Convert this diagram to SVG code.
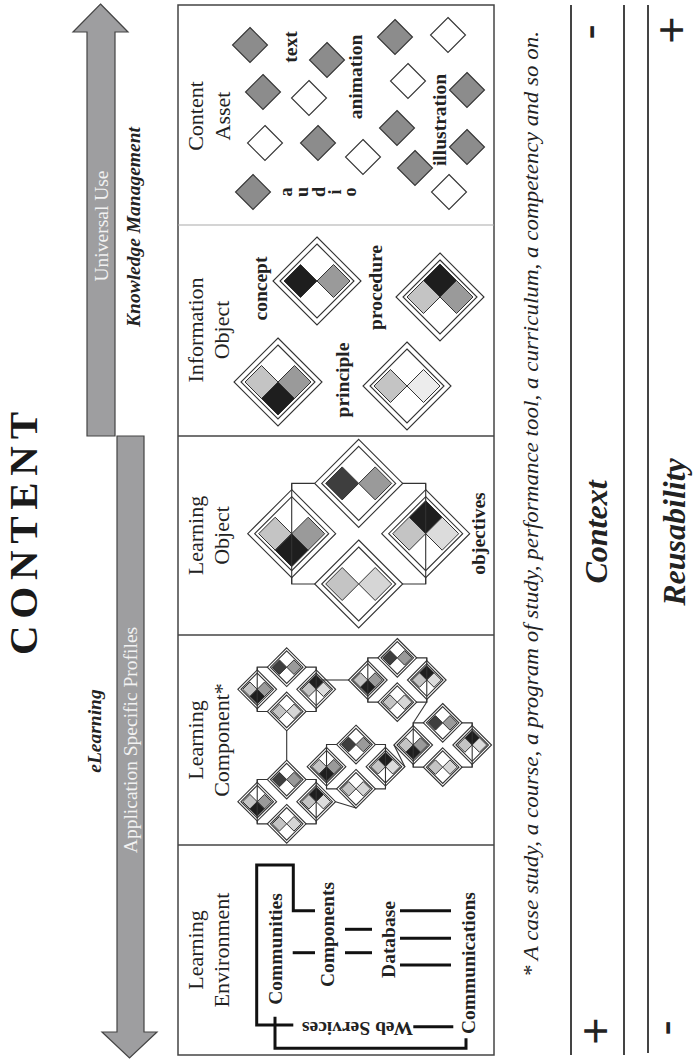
<svg xmlns="http://www.w3.org/2000/svg" xmlns:xlink="http://www.w3.org/1999/xlink" width="697" height="1059" viewBox="0 0 697 1059">
<style>
  .lbl{font-family:"Liberation Serif",serif;font-size:22px;fill:#222;text-anchor:middle}
  .b{font-family:"Liberation Serif",serif;font-weight:bold;font-size:19.5px;fill:#222;text-anchor:middle}
  .bi{font-family:"Liberation Serif",serif;font-weight:bold;font-style:italic;font-size:19.5px;fill:#222;text-anchor:middle}
  .at{font-family:"Liberation Serif",serif;font-size:19.5px;fill:#f2f2f2;text-anchor:middle}
  .pm{font-family:"Liberation Sans",sans-serif;font-size:47px;fill:#222;text-anchor:middle}
  .o{fill:#fff;stroke:#333;stroke-width:1.1}
  .i{fill:none;stroke:#333;stroke-width:1.1}
  .s{stroke:#333;stroke-width:1}
  .ln{fill:none;stroke:#333;stroke-width:1.1}
  .thick{fill:none;stroke:#111;stroke-width:3}
</style>
<defs>
  <path id="od" d="M0,-44L44,0L0,44L-44,0Z" vector-effect="non-scaling-stroke"/>
  <path id="id" d="M0,-37L37,0L0,37L-37,0Z" vector-effect="non-scaling-stroke"/>
  <path id="sd" d="M0,-16.5L16.5,0L0,16.5L-16.5,0Z" vector-effect="non-scaling-stroke"/>
  <path id="ca" d="M0,-17.5L17.5,0L0,17.5L-17.5,0Z"/>
  <g id="lo">
    <rect x="-67" y="-50.3" width="134" height="100.6" class="ln" vector-effect="non-scaling-stroke"/>
    <g transform="translate(0,-50.3)">
      <use href="#od" class="o"/><use href="#id" class="i"/>
      <use href="#sd" x="-16.5" class="s" fill="#3e3e3e"/>
      <use href="#sd" x="16.5" class="s" fill="#9a9a9a"/>
    </g>
    <g transform="translate(-67,0)">
      <use href="#od" class="o"/><use href="#id" class="i"/>
      <use href="#sd" x="-16.5" class="s" fill="#c4c4c4"/>
      <use href="#sd" x="16.5" class="s" fill="#9a9a9a"/>
      <use href="#sd" y="16.5" class="s" fill="#1e1e1e"/>
    </g>
    <g transform="translate(67,0)">
      <use href="#od" class="o"/><use href="#id" class="i"/>
      <use href="#sd" y="-16.5" class="s" fill="#1e1e1e"/>
      <use href="#sd" x="-16.5" class="s" fill="#c4c4c4"/>
      <use href="#sd" x="16.5" class="s" fill="#dcdcdc"/>
    </g>
    <g transform="translate(0,50.3)">
      <use href="#od" class="o"/><use href="#id" class="i"/>
      <use href="#sd" x="-16.5" class="s" fill="#c4c4c4"/>
      <use href="#sd" x="16.5" class="s" fill="#d6d6d6"/>
    </g>
    <path d="M-67,-50.3V50.3M67,-50.3V50.3" class="ln" vector-effect="non-scaling-stroke"/>
  </g>
</defs>

<rect width="697" height="1059" fill="#fff"/>

<g id="title">
  <text transform="translate(37,533.5) rotate(-90)" style="font-family:'Liberation Serif',serif;font-weight:bold;font-size:41px;fill:#1a1a1a;text-anchor:middle" textLength="243" lengthAdjust="spacing">CONTENT</text>
</g>

<g id="arrow-universal-use">
  <path d="M100.5,4L128,32H115V436H87V32H73Z" fill="#9e9ea0" stroke="#444" stroke-width="1.2"/>
  <text class="at" transform="translate(108,226) rotate(-90)">Universal Use</text>
  <text class="bi" transform="translate(140,227) rotate(-90)">Knowledge Management</text>
</g>

<g id="arrow-application-profiles">
  <path d="M117,436H144V1032H157L129.5,1058L102,1032H117Z" fill="#9e9ea0" stroke="#444" stroke-width="1.2"/>
  <text class="at" transform="translate(137,740) rotate(-90)">Application Specific Profiles</text>
  <text class="bi" transform="translate(101,731) rotate(-90)">eLearning</text>
</g>

<g id="frame">
  <rect x="178" y="5" width="316" height="1050" fill="none" stroke="#444" stroke-width="1.5"/>
  <line x1="178" y1="225" x2="494" y2="225" stroke="#aaa" stroke-width="1.2"/>
  <line x1="178" y1="436" x2="494" y2="436" stroke="#444" stroke-width="1.3"/>
  <line x1="178" y1="635" x2="494" y2="635" stroke="#444" stroke-width="1.3"/>
  <line x1="178" y1="845" x2="494" y2="845" stroke="#444" stroke-width="1.3"/>
</g>

<g id="content-asset">
  <text class="lbl" transform="translate(203,116) rotate(-90)">Content</text>
  <text class="lbl" transform="translate(230,116) rotate(-90)">Asset</text>
  <g stroke="#333" stroke-width="1.1">
    <use href="#ca" x="250" y="45" fill="#8c8c8c"/>
    <use href="#ca" x="263" y="92" fill="#8c8c8c"/>
    <use href="#ca" x="265" y="143" fill="#fff"/>
    <use href="#ca" x="253" y="192" fill="#8c8c8c"/>
    <use href="#ca" x="327" y="60" fill="#8c8c8c"/>
    <use href="#ca" x="309" y="98" fill="#fff"/>
    <use href="#ca" x="318" y="143" fill="#8c8c8c"/>
    <use href="#ca" x="363" y="157" fill="#fff"/>
    <use href="#ca" x="395" y="37" fill="#8c8c8c"/>
    <use href="#ca" x="408" y="81" fill="#fff"/>
    <use href="#ca" x="397" y="128" fill="#8c8c8c"/>
    <use href="#ca" x="415" y="168" fill="#8c8c8c"/>
    <use href="#ca" x="448" y="35" fill="#fff"/>
    <use href="#ca" x="467" y="90" fill="#8c8c8c"/>
    <use href="#ca" x="467" y="147" fill="#8c8c8c"/>
    <use href="#ca" x="449" y="192" fill="#fff"/>
  </g>
  <text class="b" transform="translate(297,47) rotate(-90)">text</text>
  <text class="b" transform="translate(362,77) rotate(-90)">animation</text>
  <text class="b" transform="translate(446,120) rotate(-90)">illustration</text>
  <text class="b" style="font-size:18px" transform="translate(292,192) rotate(-90)">a</text>
  <text class="b" style="font-size:18px" transform="translate(308,192) rotate(-90)">u</text>
  <text class="b" style="font-size:18px" transform="translate(325,192) rotate(-90)">d</text>
  <text class="b" style="font-size:18px" transform="translate(341,192) rotate(-90)">i</text>
  <text class="b" style="font-size:18px" transform="translate(356,192) rotate(-90)">o</text>
</g>

<g id="information-object">
  <text class="lbl" transform="translate(203,330) rotate(-90)">Information</text>
  <text class="lbl" transform="translate(229,330) rotate(-90)">Object</text>
  <g transform="translate(278,382)">
    <use href="#od" class="o"/><use href="#id" class="i"/>
    <use href="#sd" x="-16.5" class="s" fill="#c4c4c4"/>
    <use href="#sd" x="16.5" class="s" fill="#9a9a9a"/>
    <use href="#sd" y="16.5" class="s" fill="#1e1e1e"/>
  </g>
  <g transform="translate(317,281)">
    <use href="#od" class="o"/><use href="#id" class="i"/>
    <use href="#sd" x="-16.5" class="s" fill="#1e1e1e"/>
    <use href="#sd" x="16.5" class="s" fill="#9a9a9a"/>
  </g>
  <g transform="translate(407,386)">
    <use href="#od" class="o"/><use href="#id" class="i"/>
    <use href="#sd" x="-16.5" class="s" fill="#c4c4c4"/>
    <use href="#sd" x="16.5" class="s" fill="#ececec"/>
  </g>
  <g transform="translate(440,297)">
    <use href="#od" class="o"/><use href="#id" class="i"/>
    <use href="#sd" y="-16.5" class="s" fill="#1e1e1e"/>
    <use href="#sd" x="-16.5" class="s" fill="#c4c4c4"/>
    <use href="#sd" x="16.5" class="s" fill="#9a9a9a"/>
  </g>
  <text class="b" transform="translate(267,288.5) rotate(-90)">concept</text>
  <text class="b" transform="translate(349,380) rotate(-90)">principle</text>
  <text class="b" transform="translate(382,287.5) rotate(-90)">procedure</text>
</g>

<g id="learning-object">
  <text class="lbl" transform="translate(203,535.5) rotate(-90)">Learning</text>
  <text class="lbl" transform="translate(229,535.5) rotate(-90)">Object</text>
  <use href="#lo" transform="translate(358.7,533.7)"/>
  <text class="b" transform="translate(485,533.5) rotate(-90)">objectives</text>
</g>

<g id="learning-component">
  <text class="lbl" transform="translate(203,740) rotate(-90)">Learning</text>
  <text class="lbl" transform="translate(229,740) rotate(-90)">Component*</text>
  <use href="#lo" transform="translate(286.7,689.3) scale(0.44)"/>
  <use href="#lo" transform="translate(397.3,680) scale(0.44)"/>
  <use href="#lo" transform="translate(442.7,745) scale(0.44)"/>
  <use href="#lo" transform="translate(356,766.7) scale(0.44)"/>
  <use href="#lo" transform="translate(286.7,801.7) scale(0.44)"/>
</g>

<g id="learning-environment">
  <text class="lbl" transform="translate(203,950) rotate(-90)">Learning</text>
  <text class="lbl" transform="translate(229,950) rotate(-90)">Environment</text>
  <text class="b" transform="translate(282,949) rotate(-90)">Communities</text>
  <text class="b" transform="translate(334,934.5) rotate(-90)">Components</text>
  <text class="b" transform="translate(395,939.5) rotate(-90)">Database</text>
  <text class="b" transform="translate(475,963) rotate(-90)">Communications</text>
  <text class="b" transform="translate(357.5,1021.5) rotate(180)">Web Services</text>
</g>

<g id="connectors">
  <g class="ln" stroke-width="1.3">
    <line x1="320" y1="680" x2="349" y2="680"/>
    <line x1="286.7" y1="730.8" x2="286.7" y2="760.2"/>
    <line x1="426.8" y1="702" x2="413.2" y2="723"/>
    <line x1="394" y1="745" x2="405" y2="767"/>
    <line x1="335.6" y1="801.7" x2="356" y2="808"/>
  </g>
  <g class="thick">
    <path d="M315,910.7H293.3V865H256.7V1025H293.3"/>
    <path d="M275,1016.7V1048.3H466V1038.3"/>
    <line x1="413.3" y1="1026.7" x2="453.3" y2="1026.7"/>
    <line x1="292.7" y1="952.7" x2="315" y2="952.7"/>
    <line x1="345" y1="929.3" x2="372" y2="929.3"/>
    <line x1="345" y1="952.7" x2="372" y2="952.7"/>
    <line x1="400" y1="910.7" x2="451" y2="910.7"/>
    <line x1="400" y1="938.3" x2="451" y2="938.3"/>
    <line x1="400" y1="965" x2="451" y2="965"/>
  </g>
</g>

<g id="footnote">
  <text transform="translate(538,504) rotate(-90)" style="font-family:'Liberation Serif',serif;font-style:italic;font-size:20px;fill:#222;text-anchor:middle" textLength="946" lengthAdjust="spacingAndGlyphs">* A case study, a course, a program of study, performance tool, a curriculum, a competency and so on.</text>
</g>

<g id="scales">
  <g stroke="#444" stroke-width="2">
    <line x1="571" y1="5" x2="571" y2="1055"/>
    <line x1="624" y1="5" x2="624" y2="1055"/>
    <line x1="648" y1="5" x2="648" y2="1053"/>
  </g>
  <text transform="translate(607,532) rotate(-90)" style="font-family:'Liberation Serif',serif;font-weight:bold;font-style:italic;font-size:32px;fill:#222;text-anchor:middle">Context</text>
  <text transform="translate(685,532) rotate(-90)" style="font-family:'Liberation Serif',serif;font-weight:bold;font-style:italic;font-size:32px;fill:#222;text-anchor:middle">Reusability</text>
  <text class="pm" transform="translate(604.8,32) rotate(-90)">-</text>
  <text class="pm" transform="translate(686.5,30) rotate(-90)">+</text>
  <text class="pm" transform="translate(610.5,1031) rotate(-90)">+</text>
  <text class="pm" transform="translate(681.3,1028) rotate(-90)">-</text>
</g>
</svg>
